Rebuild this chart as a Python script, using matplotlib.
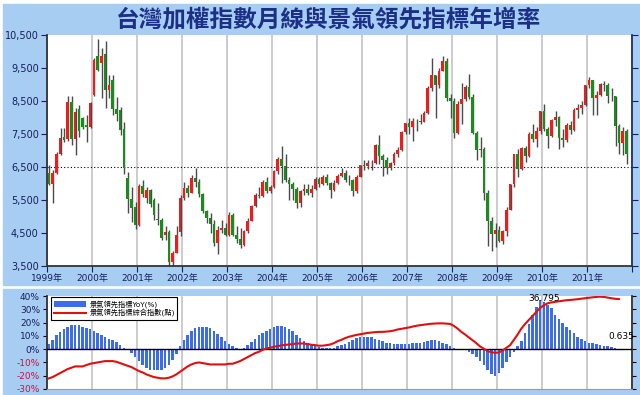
import numpy as np
import matplotlib
matplotlib.use('Agg')
import matplotlib.pyplot as plt
from matplotlib.patches import Rectangle
from matplotlib.lines import Line2D
from matplotlib.patches import Patch

plt.rcParams['font.family'] = ['DejaVu Sans', 'Noto Sans CJK TC']

################################################################################################
# DATA  (monthly, Jan 1999 .. Nov 2011)
################################################################################################

opens = [6310, 5990, 6318, 6900, 7420, 7360, 8467, 7362, 8256, 7974, 7780, 7720,
         8680, 9862, 9640, 9920, 8832, 9135, 8265, 8225, 7650, 6155, 5544, 5300,
         4739, 5936, 5550, 5797, 5500, 4935, 4883, 4440, 4540, 3636, 3903, 4540,
         5551, 5872, 5725, 6167, 6050, 5675, 5153, 4941, 4764, 4191, 4580, 4646,
         4452, 5050, 4432, 4321, 4148, 4555, 4872, 5319, 5650, 5611, 6045, 5771,
         5890, 6375, 6750, 6522, 6117, 5977, 5840, 5420, 5765, 5845, 5706, 5845,
         6140, 5994, 6207, 6006, 5818, 6012, 6242, 6312, 6116, 6118, 5764, 6204,
         6548, 6532, 6613, 6614, 7171, 6846, 6704, 6455, 6611, 6884, 7021, 7567,
         7823, 7699, 7901, 7884, 7875, 8145, 8883, 9287, 8982, 9411, 9711, 8586,
         8506, 7521, 8412, 8572, 8920, 8619, 7523, 7024, 7046, 5720, 4870, 4460,
         4591, 4248, 4557, 5211, 5993, 6890, 6432, 7078, 6826, 7509, 7340, 7582,
         8188, 7640, 7436, 7920, 8004, 7374, 7329, 7760, 7616, 8238, 8287, 8372,
         8973, 9145, 8600, 8683, 9008, 8988, 8653, 8644, 7741, 7225, 7588]
highs = [6560, 6400, 6950, 7670, 7670, 8660, 8660, 8300, 8380, 8030, 8075, 8480,
         9800, 10393, 10100, 10328, 9300, 9300, 8630, 8330, 7850, 6360, 5900, 5450,
         6000, 6104, 5900, 5820, 5550, 5400, 4950, 4700, 4600, 3950, 4700, 5650,
         6040, 5950, 6260, 6484, 6150, 5700, 5200, 5100, 4900, 4700, 4880, 4800,
         5141, 5100, 4700, 4650, 4600, 4950, 5350, 5700, 5900, 6100, 6182, 5950,
         6400, 6800, 7135, 6900, 6200, 6050, 5900, 5800, 6000, 6000, 5950, 6200,
         6200, 6250, 6300, 6050, 6100, 6300, 6480, 6400, 6250, 6150, 6250, 6570,
         6700, 6700, 6700, 7200, 7474, 6900, 6800, 6650, 6950, 7100, 7600, 7840,
         7990, 8000, 7950, 8100, 8200, 8950, 9807, 9300, 9500, 9859, 9800, 8700,
         8600, 8500, 9049, 9000, 9309, 8700, 7600, 7400, 7100, 5800, 5000, 4800,
         4700, 4600, 5300, 6000, 6900, 7050, 7100, 7150, 7550, 7800, 7700, 8200,
         8395, 7700, 7950, 8190, 8050, 7650, 7820, 7900, 8280, 8400, 8500, 8990,
         9220, 9150, 8800, 9050, 9100, 9050, 8900, 8650, 7800, 7700, 7650]
lows = [5950, 5422, 6280, 6870, 7250, 7300, 7165, 6850, 7420, 7650, 7270, 7670,
        8650, 9400, 8600, 8280, 8600, 8080, 7900, 7470, 6300, 5095, 4843, 4614,
        4700, 5600, 5400, 5300, 4900, 4740, 4300, 4300, 3411, 3446, 3880, 4400,
        5500, 5600, 5700, 5900, 5600, 5100, 4800, 4500, 4100, 3850, 4500, 4400,
        4400, 4400, 4200, 4044, 4100, 4500, 4850, 5300, 5550, 5600, 5700, 5700,
        5850, 6300, 6020, 6050, 5500, 5500, 5255, 5300, 5650, 5650, 5600, 5800,
        5900, 5950, 5950, 5565, 5780, 6000, 6200, 6050, 5950, 5620, 5700, 6200,
        6420, 6450, 6420, 6600, 6600, 6232, 6300, 6400, 6550, 6800, 6970, 7500,
        7500, 7300, 7600, 7800, 7850, 8100, 8800, 7987, 8900, 9400, 8500, 7980,
        7384, 7500, 7800, 8500, 8550, 7500, 6700, 6800, 5500, 4110, 3955, 4090,
        4230, 4164, 4400, 5200, 5900, 6200, 6400, 6650, 6800, 7250, 7100, 7500,
        7600, 7080, 7400, 7750, 7032, 7100, 7250, 7500, 7580, 8000, 8100, 8350,
        8900, 8070, 8070, 8650, 8800, 8450, 8500, 7148, 6900, 6870, 6600]
closes = [5990, 6318, 6881, 7387, 7327, 8467, 7362, 8157, 7598, 7720, 7720, 8448,
          9744, 9435, 9854, 8832, 8985, 8265, 8114, 7616, 6460, 5544, 5256, 4739,
          5936, 5674, 5797, 5381, 5045, 4883, 4352, 4540, 3636, 3903, 4441, 5551,
          5872, 5725, 6167, 6050, 5675, 5153, 4941, 4764, 4191, 4580, 4646, 4452,
          5050, 4432, 4321, 4148, 4555, 4872, 5319, 5650, 5611, 6045, 5771, 5890,
          6375, 6750, 6522, 6117, 5977, 5840, 5420, 5765, 5845, 5706, 5845, 6140,
          5994, 6207, 6006, 5818, 6012, 6242, 6312, 6116, 6118, 5764, 6204, 6548,
          6532, 6613, 6614, 7171, 6846, 6704, 6455, 6611, 6884, 7021, 7567, 7823,
          7699, 7901, 7884, 7875, 8145, 8883, 9287, 8982, 9411, 9711, 8586, 8506,
          7521, 8412, 8572, 8920, 8619, 7523, 7024, 7046, 5720, 4870, 4460, 4591,
          4248, 4557, 5211, 5993, 6890, 6432, 7078, 6826, 7509, 7340, 7582, 8188,
          7640, 7436, 7920, 8004, 7374, 7329, 7760, 7616, 8238, 8287, 8372, 8973,
          9145, 8600, 8683, 9008, 8988, 8653, 8644, 7741, 7225, 7588, 6904]

years = ['1999年', '2000年', '2001年', '2002年', '2003年', '2004年', '2005年',
         '2006年', '2007年', '2008年', '2009年', '2010年', '2011年']

# leading indicator, year-on-year %
lead_yoy = [4, 7, 10.5, 13, 15.5, 17, 18.5, 18.5, 18, 17, 16, 15, 13.5, 12, 11, 9, 8, 7, 5.5, 3, 1,
            -1, -3, -6, -9, -12, -14, -15.5, -16, -16, -15.5, -14, -12, -8, -4,
            2, 7, 11, 14, 16, 17, 17, 17, 16, 14, 11.5, 9, 6.5, 4, 2, 0.5, 0.3, 1, 3, 5.5, 8,
            10.5, 12.5, 14, 15.5, 16.5, 17.5, 17.5, 17, 15.5, 13.5, 11, 8.5, 6.5, 4.5, 3, 2,
            1.5, 1, 0.5, 0.5, 1, 2, 3, 4, 5.5, 7, 8.5, 9, 9, 9, 9, 8, 7, 6, 5, 4.5, 4, 4, 4, 4,
            4, 4.3, 4.5, 5, 5.5, 6, 7, 7, 6.5, 5, 3.5, 2, 0.5,
            -0.3, -0.5, -1, -2.5, -4, -6, -9, -12, -15.5, -18.5, -20, -18, -14, -10, -6, -2.5,
            2, 6, 12, 19, 26, 32, 36.795, 35.5, 33.5, 31, 26, 23, 20, 17, 14.3, 12, 9.5, 8,
            6.5, 5, 4.3, 3.5, 3, 2.5, 2, 1.5, 0.635]

# composite leading index, drawn on the same visual scale as the bars
lead_index = [-22, -21, -19.5, -18, -16.5, -15, -14, -13, -13, -13, -12, -11,
              -10.5, -10, -9.5, -9, -9, -9, -9.5, -10.5, -11.5, -12.5, -13.5, -15,
              -16.5, -17.5, -19, -20, -21, -21.5, -22, -22, -21.5, -20.5, -19, -17,
              -15, -13, -11.5, -10.5, -10, -10.5, -11, -11.5, -11.5, -11.5, -11.5, -11.5,
              -11, -11, -10, -9, -7.5, -6, -4.5, -3, -2, -0.5, 0.5, 1,
              1.8, 2.3, 2.8, 3.2, 3.5, 3.8, 4.2, 4.3, 4.2, 3.8, 3.3, 3,
              2.6, 2.6, 3, 3.5, 4.5, 6, 7, 8.3, 9.3, 10, 10.7, 11.2,
              11.7, 12.2, 12.5, 12.8, 13, 13, 13.2, 13.5, 14, 14.8, 15.3, 15.8,
              16.3, 17, 17.6, 18, 18.4, 18.8, 19.1, 19.3, 19.4, 19.4, 19.2, 19,
              17.5, 15.5, 13, 11, 8.8, 6.5, 4.5, 2, 0.3, -1.5, -2.3, -2.8,
              -2.5, -1, 1, 3, 7, 11, 15.5, 19, 22, 25, 28, 31,
              33, 34.5, 35.2, 35.6, 36, 36.4, 36.8, 37, 37.3, 37.6, 38, 38.3,
              38.7, 39, 39.3, 39.5, 39.3, 38.8, 38.3, 37.9, 37.7]

################################################################################################
# PLOT
################################################################################################

W, H = 640, 395
fig = plt.figure(figsize=(6.4, 3.95), dpi=100, facecolor='white')

def fig_rect(x0, y0, x1, y1, color):
    fig.patches.append(Rectangle((x0 / W, 1 - y1 / H), (x1 - x0) / W, (y1 - y0) / H,
                                 transform=fig.transFigure, color=color, zorder=-5))

blue_bg = '#a8cdf3'
fig_rect(3, 4, 640, 285, blue_bg)
fig_rect(3, 289, 640, 395, blue_bg)

navy = '#14205a'
fig.text(328 / W, 1 - 21 / H, '台灣加權指數月線與景氣領先指標年增率', ha='center', va='center',
         fontsize=17, color='#1c2f86', family=['Noto Sans CJK TC'], fontweight='bold')

# ---- top panel: candles
ax = fig.add_axes([47 / W, 1 - 266 / H, 585 / W, 231 / H])
n = len(closes)
x = np.arange(n) + 0.5
o = np.array(opens); c = np.array(closes)
up = c >= o
ax.vlines(x + 0.15, lows, highs, color='#4a4a4a', lw=1.0, zorder=2)
ax.bar(x[up], (c - o)[up], bottom=o[up], width=0.68, color='#f01c1c', zorder=3)
ax.bar(x[~up], (o - c)[~up], bottom=c[~up], width=0.68, color='#1a8c1a', zorder=3)
ax.axhline(6500, color='black', lw=0.8, ls=(0, (1, 2)), zorder=1)

ax.set_xlim(0, 156)
ax.set_ylim(3500, 10500)
ax.set_yticks(np.arange(3500, 10501, 1000))
ax.set_yticklabels(['{:,}'.format(v) for v in range(3500, 10501, 1000)])
ax.set_xticks(np.arange(0, 157, 12))
ax.set_xticklabels(years + [''])
ax.grid(axis='x', color='#c4c4c4', lw=1.2)
ax.set_axisbelow(True)
ax.tick_params(axis='y', which='both', left=True, right=True, labelright=True,
               direction='out', length=4, labelsize=7, colors=navy, pad=2)
ax.tick_params(axis='x', direction='out', length=4, labelsize=6.5, colors=navy, pad=2)
for s in ['left', 'bottom']:
    ax.spines[s].set_color('#333333')
    ax.spines[s].set_linewidth(1.3)
ax.spines['right'].set_color('#1f2f6f')
ax.spines['right'].set_linewidth(1.3)
ax.spines['top'].set_visible(False)

# ---- bottom panel: leading indicator
bx = fig.add_axes([47 / W, 1 - 389 / H, 585 / W, 93 / H])
bx.bar(np.arange(len(lead_yoy)) + 0.5, lead_yoy, width=0.7, color='#3b6cf0', zorder=3)
bx.plot(np.arange(len(lead_index)) + 0.5, lead_index, color='#e01010', lw=1.5, zorder=4)
bx.axhline(0, color='black', lw=1.0, zorder=3)
bx.set_xlim(0, 156)
bx.set_ylim(-30, 40)
bx.set_xticks(np.arange(0, 157, 12))
bx.set_xticklabels([])
bx.grid(axis='x', color='#c4c4c4', lw=1.2)
bx.set_axisbelow(True)
ticks = np.arange(-30, 41, 10)
bx.set_yticks(ticks)
bx.set_yticklabels(['{}%'.format(t) for t in ticks])
for lab, t in zip(bx.get_yticklabels(), ticks):
    lab.set_color('#cc1040' if t < 0 else navy)
bx.tick_params(axis='y', left=True, right=True, direction='out', length=3, labelsize=6.5, pad=2)
bx.tick_params(axis='x', length=0)
for s in ['left', 'right']:
    bx.spines[s].set_color('#333333')
    bx.spines[s].set_linewidth(1.3)
bx.spines['top'].set_visible(False)
bx.spines['bottom'].set_color('#9a9a9a')

bx.text(132.5, 38.3, '36.795', ha='center', va='center', fontsize=6.5, color='black', zorder=5)
bx.text(156.5, 9.3, '0.635', ha='right', va='center', fontsize=6.5, color='black', zorder=5,
        clip_on=False)

handles = [Patch(facecolor='#3b6cf0', edgecolor='none'),
           Line2D([0], [0], color='#e01010', lw=1.5)]
leg = bx.legend(handles, ['景氣領先指標YoY(%)', '景氣領先指標綜合指數(點)'],
                loc='upper left', bbox_to_anchor=(0.005, 1.0), fontsize=5.2,
                frameon=True, fancybox=False, edgecolor='black', framealpha=1,
                handlelength=4.5, handleheight=0.9, borderpad=0.3, labelspacing=0.25,
                handletextpad=0.5, borderaxespad=0.2)
leg.get_frame().set_linewidth(0.8)
leg.set_zorder(6)

fig.savefig('out.png', dpi=100, facecolor=fig.get_facecolor())
